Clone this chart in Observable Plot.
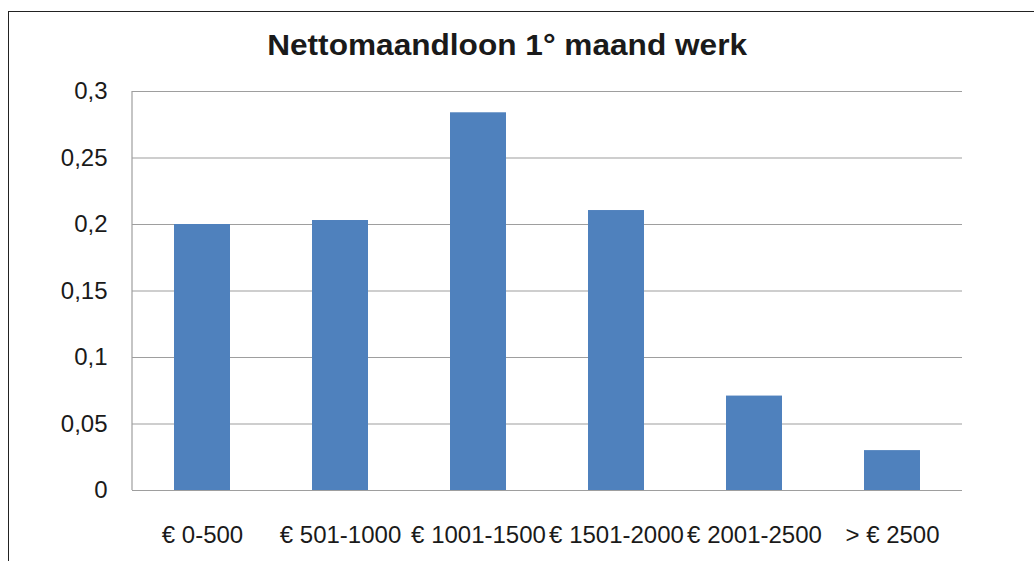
<!DOCTYPE html>
<html>
<head>
<meta charset="utf-8">
<script src="https://cdn.jsdelivr.net/npm/d3@7"></script>
<script src="https://cdn.jsdelivr.net/npm/@observablehq/plot@0.6"></script>
<style>
  html, body { margin: 0; padding: 0; background: #fff; overflow: hidden; }
  #wrap { position: relative; width: 1034px; height: 561px; }
  #frame { position: absolute; left: 8px; top: 11px; width: 1200px; height: 800px;
           border-left: 1.3px solid #222; border-top: 1.3px solid #222; }
  #title { position: absolute; left: 0; width: 1034px; top: 29px; text-align: center;
           font-family: "Liberation Sans", Arial, sans-serif; font-weight: bold; font-size: 29px;
           color: #1a1a1a; }
  #title span { display: inline-block; transform: scaleX(1.09); margin-left: -19px; }
  #chart { position: absolute; left: 0; top: 0; }
</style>
</head>
<body>
<div id="wrap">
  <div id="frame"></div>
  <div id="chart"></div>
  <div id="title"><span>Nettomaandloon 1° maand werk</span></div>
</div>
<script>
const categories = ["€ 0-500", "€ 501-1000", "€ 1001-1500", "€ 1501-2000", "€ 2001-2500", "> € 2500"];
const values = [0.200, 0.203, 0.284, 0.2105, 0.071, 0.030];
const yTicks = [0, 0.05, 0.1, 0.15, 0.2, 0.25, 0.3];
const yTickLabels = ["0", "0,05", "0,1", "0,15", "0,2", "0,25", "0,3"];

const data = categories.map((c, i) => ({category: c, value: values[i]}));

const plot = Plot.plot({
  width: 1034,
  height: 561,
  marginLeft: 132,
  marginRight: 72,
  marginTop: 91,
  marginBottom: 71,
  style: {fontFamily: "'Liberation Sans', Arial, sans-serif", fontSize: "24px", color: "#1a1a1a", background: "transparent"},
  x: {domain: categories, paddingInner: 0.595, paddingOuter: 0.2975, label: null, tickSize: 0, tickPadding: 35},
  y: {domain: [0, 0.3], ticks: yTicks, tickFormat: d => yTickLabels[yTicks.indexOf(d)] ?? String(d).replace(".", ","), label: null, tickSize: 0, tickPadding: 25},
  marks: [
    Plot.ruleY(yTicks, {stroke: "#9e9e9e", strokeWidth: 1.2}),
    Plot.barY(data, {x: "category", y: "value", fill: "#4F81BD"})
  ]
});
document.getElementById("chart").appendChild(plot);

// left axis line using the plot's own scales
const xr = plot.scale("x").range;
const ys = plot.scale("y");
d3.select(plot).append("line")
  .attr("x1", xr[0]).attr("x2", xr[0])
  .attr("y1", ys.apply(0.3)).attr("y2", ys.apply(0))
  .attr("stroke", "#9e9e9e").attr("stroke-width", 1.2);
</script>
</body>
</html>
